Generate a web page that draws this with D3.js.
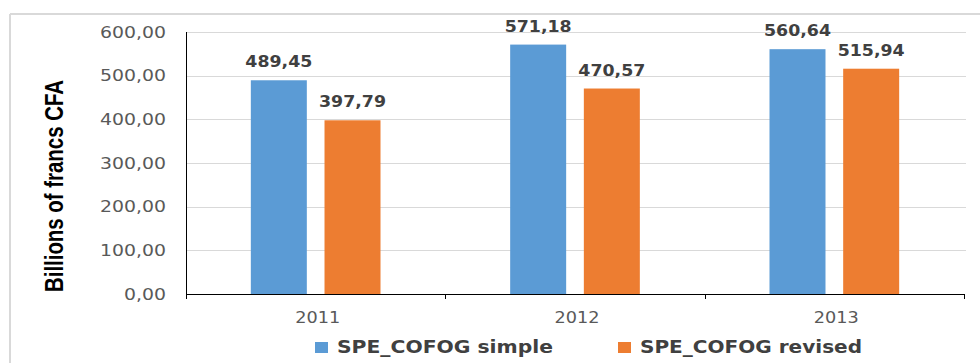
<!DOCTYPE html>
<html>
<head>
<meta charset="utf-8">
<script src="https://cdn.jsdelivr.net/npm/d3@7"></script>
<style>
  body { margin: 0; background: #fff; }
  svg { display: block; }
</style>
</head>
<body>
<div id="chart"></div>
<script>
// DATA
var years = ["2011", "2012", "2013"];
var seriesNames = ["SPE_COFOG simple", "SPE_COFOG revised"];
var simpleValues = [489.45, 571.18, 560.64];
var revisedValues = [397.79, 470.57, 515.94];
var yTicks = [0, 100, 200, 300, 400, 500, 600];
var colors = ["#5B9BD5", "#ED7D31"];

var svgWidth = 980, svgHeight = 363;
var margins = { top: 32, bottom: 69, left: 186, right: 16 };

var fmt = function(v) { return v.toFixed(2).replace(".", ","); };

// Create SVG
var svg = d3.select("#chart")
    .append("svg")
        .attr("width", svgWidth)
        .attr("height", svgHeight);

// Outer frame (top and left edge only visible)
svg.append("line")
    .attr("x1", 10).attr("x2", svgWidth)
    .attr("y1", 14).attr("y2", 14)
    .attr("stroke", "#d9d9d9").attr("stroke-width", 2);
svg.append("line")
    .attr("x1", 10).attr("x2", 10)
    .attr("y1", 14).attr("y2", svgHeight)
    .attr("stroke", "#d9d9d9").attr("stroke-width", 2);

// Scales
var x0 = d3.scaleBand()
    .domain(years)
    .range([margins.left, svgWidth - margins.right])
    .paddingInner(0.5)
    .paddingOuter(0.25);

var x1 = d3.scaleBand()
    .domain(seriesNames)
    .range([0, x0.bandwidth()])
    .paddingInner(0.24);

var y = d3.scaleLinear()
    .domain([0, 600])
    .range([svgHeight - margins.bottom, margins.top]);

var step = x0.step();
var plotLeft = margins.left, plotRight = svgWidth - margins.right;

// Gridlines
svg.append("g")
    .selectAll("line")
    .data(yTicks.slice(1))
    .enter()
    .append("line")
        .attr("x1", plotLeft).attr("x2", plotRight + 2)
        .attr("y1", d => Math.round(y(d)) + 0.5)
        .attr("y2", d => Math.round(y(d)) + 0.5)
        .attr("stroke", "#d9d9d9").attr("stroke-width", 1);

// Y tick labels
svg.append("g")
    .selectAll("text")
    .data(yTicks)
    .enter()
    .append("text")
        .attr("x", 166)
        .attr("y", d => y(d) + 5.5)
        .attr("text-anchor", "end")
        .attr("textLength", d => d >= 100 ? 66 : 42)
        .attr("lengthAdjust", "spacingAndGlyphs")
        .style("font-family", "DejaVu Sans, sans-serif")
        .style("font-size", "15px")
        .style("fill", "#595959")
        .text(d => fmt(d));

// Bars
var table = years.map(function(yr, i) {
    return { year: yr, values: [
        { key: seriesNames[0], value: simpleValues[i], color: colors[0] },
        { key: seriesNames[1], value: revisedValues[i], color: colors[1] }
    ]};
});

var groups = svg.selectAll("g.grp")
    .data(table)
    .enter()
    .append("g")
        .attr("class", "grp")
        .attr("transform", d => "translate(" + x0(d.year) + ",0)");

groups.selectAll("rect")
    .data(d => d.values)
    .enter()
    .append("rect")
        .attr("x", d => x1(d.key))
        .attr("y", d => y(d.value))
        .attr("width", x1.bandwidth())
        .attr("height", d => y(0) - y(d.value))
        .attr("fill", d => d.color);

// Data labels
groups.selectAll("text")
    .data(d => d.values)
    .enter()
    .append("text")
        .attr("x", d => x1(d.key) + x1.bandwidth() / 2)
        .attr("y", d => y(d.value) - 13)
        .attr("text-anchor", "middle")
        .attr("textLength", 67)
        .attr("lengthAdjust", "spacingAndGlyphs")
        .style("font-family", "DejaVu Sans, sans-serif")
        .style("font-weight", "bold")
        .style("font-size", "15px")
        .style("fill", "#404040")
        .text(d => fmt(d.value));

// Axes lines
svg.append("line")
    .attr("x1", plotLeft + 0.5).attr("x2", plotLeft + 0.5)
    .attr("y1", y(600)).attr("y2", y(0))
    .attr("stroke", "#000").attr("stroke-width", 1);
svg.append("line")
    .attr("x1", plotLeft).attr("x2", plotRight)
    .attr("y1", Math.round(y(0)) + 0.5).attr("y2", Math.round(y(0)) + 0.5)
    .attr("stroke", "#000").attr("stroke-width", 1);

// Category boundary ticks
var boundaries = d3.range(years.length + 1).map(i => plotLeft + i * step);
svg.append("g")
    .selectAll("line")
    .data(boundaries)
    .enter()
    .append("line")
        .attr("x1", d => Math.round(d) + 0.5).attr("x2", d => Math.round(d) + 0.5)
        .attr("y1", y(0)).attr("y2", y(0) + 5)
        .attr("stroke", "#000").attr("stroke-width", 1);

// X labels
svg.append("g")
    .selectAll("text")
    .data(years)
    .enter()
    .append("text")
        .attr("x", d => x0(d) + x0.bandwidth() / 2 + 2)
        .attr("y", 323)
        .attr("text-anchor", "middle")
        .attr("textLength", 45)
        .attr("lengthAdjust", "spacingAndGlyphs")
        .style("font-family", "DejaVu Sans, sans-serif")
        .style("font-size", "15px")
        .style("fill", "#595959")
        .text(d => d);

// Y axis title
svg.append("text")
    .attr("transform", "translate(63,186) rotate(-90)")
    .attr("text-anchor", "middle")
    .attr("textLength", 212)
    .attr("lengthAdjust", "spacingAndGlyphs")
    .style("font-family", "Liberation Sans Narrow, Liberation Sans, sans-serif")
    .style("font-weight", "bold")
    .style("font-size", "26px")
    .style("fill", "#000")
    .text("Billions of  francs CFA");

// Legend
var legendX = [315, 618];
var legendW = [216, 222];
var legend = svg.selectAll("g.legend")
    .data(seriesNames)
    .enter()
    .append("g")
        .attr("class", "legend")
        .attr("transform", (d, i) => "translate(" + legendX[i] + ",0)");

legend.append("rect")
    .attr("x", 0).attr("y", 342)
    .attr("width", 13).attr("height", 11)
    .attr("fill", (d, i) => colors[i]);

legend.append("text")
    .attr("x", 22)
    .attr("y", 353)
    .attr("textLength", (d, i) => legendW[i])
    .attr("lengthAdjust", "spacingAndGlyphs")
    .style("font-family", "DejaVu Sans, sans-serif")
    .style("font-weight", "bold")
    .style("font-size", "17px")
    .style("fill", "#404040")
    .text(d => d);
</script>
</body>
</html>
